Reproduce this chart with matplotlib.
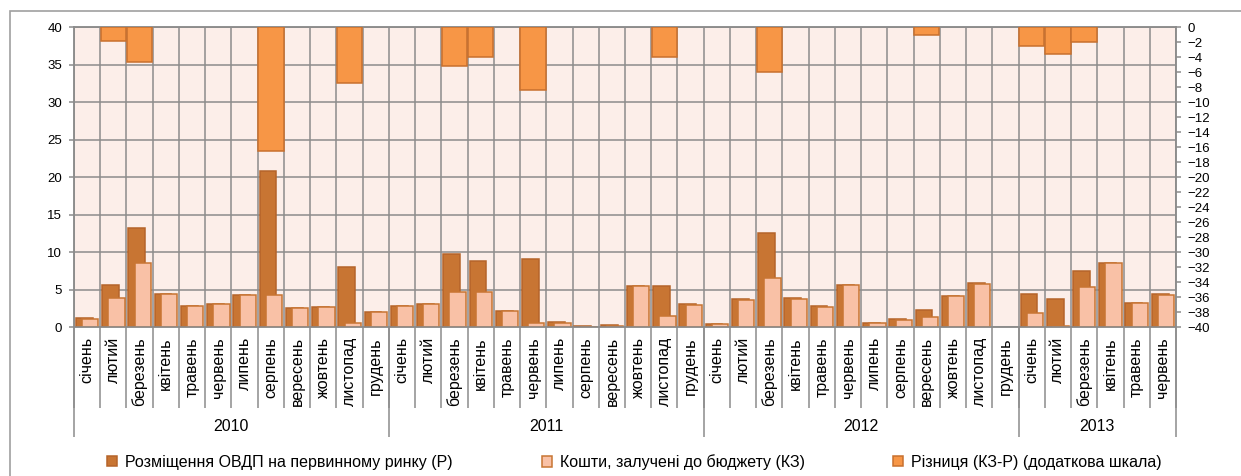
import matplotlib
matplotlib.use("Agg")
import matplotlib.pyplot as plt
import numpy as np
from matplotlib.patches import Rectangle

plt.rcParams["font.family"] = ["Liberation Sans", "DejaVu Sans"]

# --- data --------------------------------------------------------------
years = ["2010", "2011", "2012", "2013"]
months_per_year = [12, 12, 12, 6]
month_names = ["січень", "лютий", "березень", "квітень", "травень", "червень",
               "липень", "серпень", "вересень", "жовтень", "листопад", "грудень"]

# placement of OVDP on primary market (P), bn UAH
placement = [1.2, 5.65, 13.2, 4.5, 2.85, 3.15, 4.3, 20.8, 2.6, 2.75, 8.05, 2.05,
             2.9, 3.1, 9.75, 8.85, 2.2, 9.05, 0.65, 0.13, 0.27, 5.55, 5.45, 3.05,
             0.45, 3.8, 12.6, 3.9, 2.85, 5.7, 0.6, 1.1, 2.35, 4.2, 5.85, 0.0,
             4.45, 3.75, 7.45, 8.6, 3.3, 4.4]
# funds raised to the budget (KZ)
budget = [1.1, 3.85, 8.6, 4.45, 2.8, 3.15, 4.3, 4.3, 2.55, 2.7, 0.6, 2.0,
          2.85, 3.05, 4.65, 4.75, 2.15, 0.6, 0.6, 0.08, 0.2, 5.55, 1.45, 3.0,
          0.4, 3.7, 6.55, 3.8, 2.75, 5.65, 0.55, 1.0, 1.35, 4.15, 5.8, 0.0,
          1.95, 0.2, 5.4, 8.55, 3.25, 4.3]
# difference KZ-P (secondary scale)
difference = [0, -1.8, -4.6, 0, 0, 0, 0, -16.5, 0, 0, -7.4, 0,
              0, 0, -5.1, -4.0, 0, -8.4, 0, 0, 0, 0, -4.0, 0,
              0, 0, -6.0, 0, 0, 0, 0, 0, -1.0, 0, 0, 0,
              -2.5, -3.5, -2.0, 0, 0, 0]

labels = []
for n in months_per_year:
    labels += month_names[:n]

# --- styling -----------------------------------------------------------
W, H = 1241, 476
c_p, c_p_edge = "#C87533", "#B5642A"
c_kz, c_kz_edge = "#F9C1A6", "#C87533"
c_diff, c_diff_edge = "#F79646", "#C8702E"
grid_c = "#8C8C8C"
bg = "#FCEEE9"
fs = 11.5

fig = plt.figure(figsize=(W / 100, H / 100), dpi=100)
ax = fig.add_axes([74 / W, (H - 327.3) / H, (1176 - 74) / W, 300 / H])
ax.set_facecolor(bg)

x = np.arange(len(labels))
P = np.array(placement)
KZ = np.array(budget)
D = np.array(difference)

mp = P > 0
mk = KZ > 0
ax.bar(x[mp] - 0.105, P[mp], width=0.64, color=c_p, edgecolor=c_p_edge,
       linewidth=1.1, zorder=3, label="Розміщення ОВДП на первинному ринку (Р)")
ax.bar(x[mk] + 0.12, KZ[mk], width=0.62, color=c_kz, edgecolor=c_kz_edge,
       linewidth=1.1, zorder=4, label="Кошти, залучені до бюджету (КЗ)")

ax.set_xlim(-0.5, len(labels) - 0.5)
ax.set_ylim(0, 40)
ax.set_yticks(np.arange(0, 41, 5))
ax.set_xticks(x)
ax.set_xticklabels(labels, rotation=90, fontsize=fs)
ax.set_xticks(np.arange(-0.5, len(labels), 1), minor=True)
ax.tick_params(axis="x", which="major", length=0, pad=7)
ax.tick_params(axis="x", which="minor", length=58, width=1.1, color=grid_c)
ax.tick_params(axis="y", direction="out", length=3.5, width=1.1, color=grid_c,
               labelsize=9.5, pad=5)
ax.grid(axis="y", which="major", color=grid_c, lw=1.1)
ax.grid(axis="x", which="minor", color=grid_c, lw=1.1)
ax.set_axisbelow(True)
for s in ax.spines.values():
    s.set_color(grid_c)
    s.set_linewidth(1.1)

# year group separators and labels
bounds = np.concatenate([[0], np.cumsum(months_per_year)]) - 0.5
ax.vlines(bounds, -0.366, 0, transform=ax.get_xaxis_transform(),
          colors=grid_c, lw=1.1, clip_on=False)
for i, yr in enumerate(years):
    ax.text((bounds[i] + bounds[i + 1]) / 2, -0.332, yr,
            transform=ax.get_xaxis_transform(), ha="center", va="center",
            fontsize=fs)

# secondary axis for the difference
ax2 = ax.twinx()
md = D != 0
ax2.bar(x[md], D[md], width=0.97, color=c_diff, edgecolor=c_diff_edge,
        linewidth=1.1, zorder=3, label="Різниця (КЗ-Р) (додаткова шкала)")
ax2.set_ylim(-40, 0)
ax2.set_yticks(np.arange(-40, 1, 2))
ax2.tick_params(axis="y", direction="out", length=3.5, width=1.1, color=grid_c,
                labelsize=9.5, pad=5)
for s in ax2.spines.values():
    s.set_color(grid_c)
    s.set_linewidth(1.1)

# legend entries placed individually
h1, l1 = ax.get_legend_handles_labels()
h2, l2 = ax2.get_legend_handles_labels()
handles = h1 + h2
names = l1 + l2
for h, name, xpos in zip(handles, names, [107, 542, 893]):
    fig.legend([h], [name], loc="center left",
               bbox_to_anchor=(xpos / W, (H - 462) / H), frameon=False,
               fontsize=fs, handlelength=0.65, handleheight=0.65,
               handletextpad=0.45, borderpad=0, borderaxespad=0)

# outer chart border
fig.patches.append(Rectangle((9.5 / W, -0.2), 1.2, (H - 11) / H + 0.2,
                             transform=fig.transFigure, fill=False,
                             edgecolor="#A0A0A0", lw=1.2))

fig.savefig("out.png", dpi=100)
